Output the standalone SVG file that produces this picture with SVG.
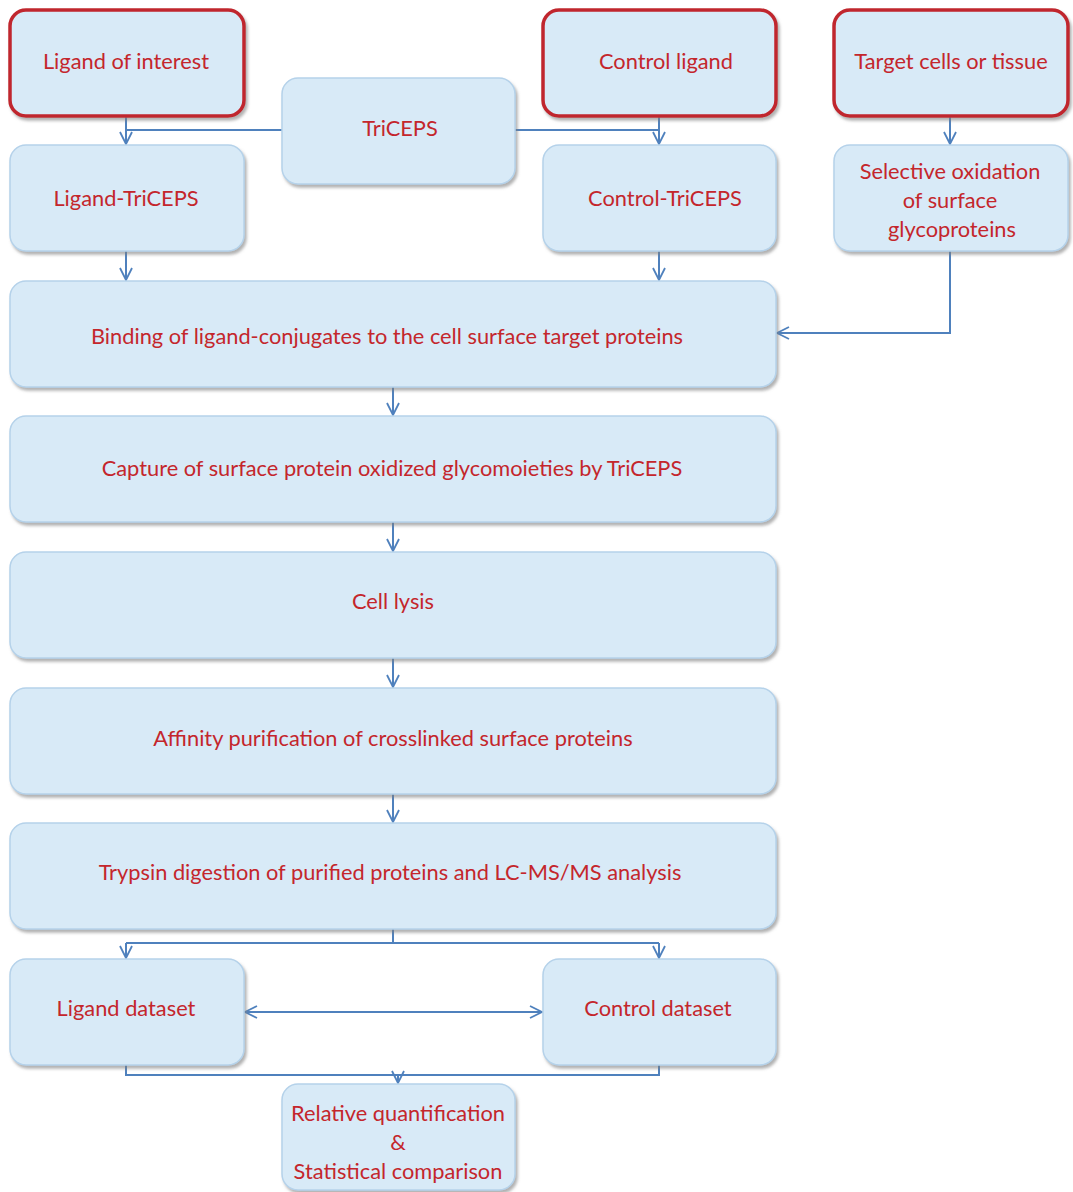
<svg xmlns="http://www.w3.org/2000/svg" width="1073" height="1192" viewBox="0 0 1073 1192">
<defs>
<filter id="sh" x="-10%" y="-10%" width="120%" height="130%">
<feDropShadow dx="2" dy="3" stdDeviation="1.5" flood-color="#7f7f7f" flood-opacity="0.6"/>
</filter>
<marker id="ah" viewBox="0 0 14 14" refX="13" refY="7" markerWidth="14" markerHeight="14" markerUnits="userSpaceOnUse" orient="auto-start-reverse">
<path d="M1,1 L13,7 L1,13" fill="none" stroke="#4f81bd" stroke-width="1.8"/>
</marker>
<style>
.b{fill:#d8eaf7;stroke:#b5d2ea;stroke-width:1.5;filter:url(#sh)}
.r{fill:#d8eaf7;stroke:#c0272d;stroke-width:3.5;filter:url(#sh)}
text{font-family:Lato,"Open Sans",sans-serif;font-size:21.8px;fill:#c4262c;text-anchor:middle}
.c{fill:none;stroke:#4f81bd;stroke-width:2}
</style>
</defs>
<g id="connectors">
<path class="c" d="M126,116 V144" marker-end="url(#ah)"/>
<path class="c" d="M282,130 H126"/>
<path class="c" d="M515,130 H659"/>
<path class="c" d="M659,116 V144" marker-end="url(#ah)"/>
<path class="c" d="M950,116 V144" marker-end="url(#ah)"/>
<path class="c" d="M126,251 V280" marker-end="url(#ah)"/>
<path class="c" d="M659,251 V280" marker-end="url(#ah)"/>
<path class="c" d="M950,251 V333 H777" marker-end="url(#ah)"/>
<path class="c" d="M393,387 V415" marker-end="url(#ah)"/>
<path class="c" d="M393,522 V551" marker-end="url(#ah)"/>
<path class="c" d="M393,658 V687" marker-end="url(#ah)"/>
<path class="c" d="M393,794 V822" marker-end="url(#ah)"/>
<path class="c" d="M393,929 V943"/>
<path class="c" d="M126,943 H659"/>
<path class="c" d="M126,943 V958" marker-end="url(#ah)"/>
<path class="c" d="M659,943 V958" marker-end="url(#ah)"/>
<path class="c" d="M245,1012 H542" marker-start="url(#ah)" marker-end="url(#ah)"/>
<path class="c" d="M126,1065 V1075 H659 V1065"/>
<path class="c" d="M398,1075 V1083" marker-end="url(#ah)"/>
</g>
<g id="ligand-of-interest"><rect class="r" x="10" y="10" width="234" height="106" rx="16"/><text x="126" y="69">Ligand of interest</text></g>
<g id="triceps"><rect class="b" x="282" y="78" width="233" height="106" rx="16"/><text x="400" y="136">TriCEPS</text></g>
<g id="control-ligand"><rect class="r" x="543" y="10" width="233" height="106" rx="16"/><text x="666" y="69">Control ligand</text></g>
<g id="target-cells"><rect class="r" x="834" y="10" width="234" height="106" rx="16"/><text x="951" y="69">Target cells or tissue</text></g>
<g id="ligand-triceps"><rect class="b" x="10" y="145" width="234" height="106" rx="16"/><text x="126" y="206">Ligand-TriCEPS</text></g>
<g id="control-triceps"><rect class="b" x="543" y="145" width="233" height="106" rx="16"/><text x="665" y="206">Control-TriCEPS</text></g>
<g id="selective-oxidation"><rect class="b" x="834" y="145" width="234" height="106" rx="16"/><text x="950" y="179">Selective oxidation</text><text x="950" y="208">of surface</text><text x="952" y="237">glycoproteins</text></g>
<g id="binding"><rect class="b" x="10" y="281" width="766" height="106" rx="16"/><text x="387" y="344">Binding of ligand-conjugates to the cell surface target proteins</text></g>
<g id="capture"><rect class="b" x="10" y="416" width="766" height="106" rx="16"/><text x="392" y="476">Capture of surface protein oxidized glycomoieties by TriCEPS</text></g>
<g id="cell-lysis"><rect class="b" x="10" y="552" width="766" height="106" rx="16"/><text x="393" y="609">Cell lysis</text></g>
<g id="affinity"><rect class="b" x="10" y="688" width="766" height="106" rx="16"/><text x="393" y="746">Affinity purification of crosslinked surface proteins</text></g>
<g id="trypsin"><rect class="b" x="10" y="823" width="766" height="106" rx="16"/><text x="390" y="880">Trypsin digestion of purified proteins and LC-MS/MS analysis</text></g>
<g id="ligand-dataset"><rect class="b" x="10" y="959" width="234" height="106" rx="16"/><text x="126" y="1016">Ligand dataset</text></g>
<g id="control-dataset"><rect class="b" x="543" y="959" width="233" height="106" rx="16"/><text x="658" y="1016">Control dataset</text></g>
<g id="relative-quantification"><rect class="b" x="282" y="1084" width="233" height="106" rx="16"/><text x="398" y="1121">Relative quantification</text><text x="398" y="1150">&amp;</text><text x="398" y="1179">Statistical comparison</text></g>
</svg>
